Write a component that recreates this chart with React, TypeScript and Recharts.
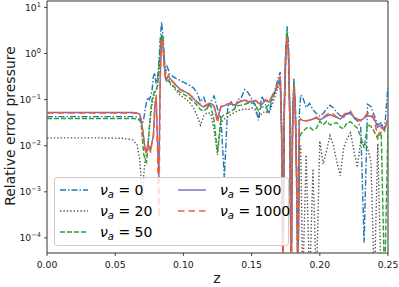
import React from 'react';
import { LineChart, Line, XAxis, YAxis, CartesianGrid, ReferenceArea, Legend } from 'recharts';

// axial position z
const Z = [
  0, 0.02, 0.04, 0.055, 0.06, 0.063, 0.066,
  0.068, 0.069, 0.07, 0.071, 0.072, 0.073, 0.074, 0.075, 0.076, 0.077, 0.078, 0.079, 0.08, 0.081, 0.082, 0.083, 0.084, 0.085, 0.086, 0.087, 0.088, 0.089, 0.09,
  0.0925, 0.095, 0.0975, 0.1, 0.1025, 0.105, 0.1075, 0.11, 0.1125, 0.115, 0.1175, 0.12, 0.1225, 0.125, 0.1275, 0.13, 0.1325, 0.135, 0.1375, 0.14, 0.1425, 0.145, 0.1475, 0.15, 0.1525, 0.155, 0.1575, 0.16, 0.1625, 0.165, 0.1675, 0.17,
  0.171, 0.172, 0.173, 0.174, 0.175, 0.176, 0.177, 0.178, 0.179, 0.18, 0.181, 0.182, 0.183, 0.184, 0.185, 0.186,
  0.1875, 0.19, 0.1925, 0.195, 0.1975, 0.2, 0.2025, 0.205, 0.2075, 0.21, 0.2125, 0.215, 0.2175, 0.22, 0.2225, 0.225, 0.2275, 0.23, 0.2325, 0.235, 0.2375, 0.24, 0.2425, 0.245, 0.2475, 0.25,
];

// nu_a = 0
const NU_0 = [
  0.0427, 0.0427, 0.0427, 0.0427, 0.0427, 0.0427, 0.0417,
  0.038, 0.0316, 0.0302, 0.0398, 0.0631, 0.0891, 0.112, 0.1, 0.12, 0.158, 0.316, 0.38, 0.224, 0.282, 0.631, 2.0, 4.79, 2.51, 0.794, 0.355, 0.525, 0.447, 0.355,
  0.316, 0.282, 0.263, 0.24, 0.219, 0.2, 0.178, 0.141, 0.0891, 0.112, 0.0661, 0.0891, 0.12, 0.0631, 0.0398, 0.002, 0.0708, 0.0891, 0.0631, 0.1, 0.112, 0.166, 0.141, 0.105, 0.0794, 0.0355, 0.12, 0.0794, 0.0501, 0.1, 0.178, 0.331,
  0.398, 0.0316, 1e-5, 0.1, 1.26, 3.89, 1.58, 0.0631, 1e-5, 0.0316, 0.282, 0.1, 0.00316, 1e-5, 0.0501, 0.126,
  0.112, 0.0676, 0.0832, 0.0603, 0.0501, 0.0437, 0.0501, 0.0631, 0.0759, 0.0661, 0.0525, 0.0447, 0.0417, 0.0501, 0.0525, 0.0398, 0.0347, 0.0251, 7.94e-5, 0.0794, 0.0708, 0.0447, 0.0282, 0.0316, 0.0224, 0.2,
];

// nu_a = 20
const NU_20 = [
  0.0148, 0.0148, 0.0148, 0.0145, 0.0138, 0.0132, 0.0105,
  0.00501, 0.002, 0.000631, 0.00251, 0.00501, 0.00708, 0.0112, 0.0224, 0.0447, 0.0794, 0.112, 0.141, 0.158, 0.191, 0.417, 1.12, 2.4, 1.91, 0.603, 0.282, 0.251, 0.263, 0.219,
  0.191, 0.151, 0.126, 0.112, 0.1, 0.0832, 0.0661, 0.0447, 0.0282, 0.0447, 0.0525, 0.0501, 0.0224, 0.00631, 0.0316, 0.038, 0.0417, 0.0479, 0.0525, 0.0575, 0.0603, 0.0631, 0.0603, 0.0661, 0.0603, 0.0398, 0.0501, 0.0562, 0.0501, 0.0759, 0.126, 0.209,
  0.251, 0.0158, 1e-5, 0.0631, 0.891, 2.82, 1.12, 0.0398, 1e-5, 0.02, 0.224, 0.0631, 0.00158, 1e-5, 0.00631, 0.01,
  1e-5, 0.00631, 1e-5, 0.00316, 1e-5, 0.0126, 0.00398, 0.00794, 0.0166, 0.01, 0.00447, 0.00224, 0.00891, 0.0141, 0.0191, 0.00794, 0.00339, 0.0126, 0.0112, 0.00891, 0.00447, 1e-5, 0.0112, 1e-5, 1e-5, 1e-5,
];

// nu_a = 50
const NU_50 = [
  0.0389, 0.0389, 0.0389, 0.0389, 0.0389, 0.0389, 0.038,
  0.0355, 0.0302, 0.0132, 0.00631, 0.00501, 0.00437, 0.00891, 0.0251, 0.0562, 0.1, 0.126, 0.158, 0.166, 0.2, 0.447, 1.26, 2.63, 2.0, 0.631, 0.282, 0.263, 0.282, 0.24,
  0.2, 0.166, 0.145, 0.132, 0.12, 0.105, 0.0891, 0.0759, 0.0603, 0.0562, 0.0661, 0.0759, 0.0355, 0.00708, 0.0398, 0.0479, 0.0501, 0.0562, 0.0631, 0.0741, 0.0759, 0.0794, 0.0832, 0.0851, 0.0794, 0.0575, 0.0708, 0.0661, 0.0759, 0.1, 0.151, 0.24,
  0.282, 0.0251, 1e-5, 0.0794, 1.0, 3.02, 1.26, 0.0501, 1e-5, 0.0251, 0.24, 0.0794, 0.002, 1e-5, 0.0126, 0.0178,
  0.02, 0.024, 0.0251, 0.0219, 0.024, 0.0339, 0.0282, 0.0339, 0.0282, 0.0302, 0.0316, 0.0251, 0.0234, 0.0316, 0.0331, 0.0282, 0.024, 0.0158, 0.00891, 0.0282, 0.0263, 0.02, 0.0141, 0.02, 1e-5, 0.0251,
];

// nu_a = 500
const NU_500 = [
  0.0525, 0.0525, 0.0525, 0.0525, 0.0525, 0.0525, 0.0513,
  0.0479, 0.038, 0.024, 0.0141, 0.00832, 0.00759, 0.0105, 0.00955, 0.00794, 0.012, 0.0166, 0.0708, 0.112, 0.0126, 0.002, 0.282, 2.09, 1.66, 0.525, 0.275, 0.295, 0.339, 0.288,
  0.245, 0.2, 0.17, 0.155, 0.141, 0.123, 0.105, 0.0871, 0.0759, 0.0692, 0.0759, 0.0832, 0.0724, 0.038, 0.0692, 0.0741, 0.0794, 0.0813, 0.0759, 0.0851, 0.0912, 0.0977, 0.0871, 0.0912, 0.0955, 0.0851, 0.0776, 0.0955, 0.0891, 0.115, 0.158, 0.251,
  0.302, 0.02, 1e-5, 0.0562, 0.832, 2.29, 1.05, 0.0398, 1e-5, 0.02, 0.209, 0.0708, 0.00251, 1e-5, 0.0355, 0.0372,
  0.0355, 0.0347, 0.0355, 0.038, 0.0398, 0.0363, 0.0398, 0.0437, 0.0468, 0.0437, 0.0407, 0.038, 0.0437, 0.049, 0.0501, 0.0417, 0.038, 0.0355, 0.0398, 0.0447, 0.0437, 0.038, 0.0251, 0.0282, 0.0224, 0.038,
];

// nu_a = 1000
const NU_1000 = [
  0.0513, 0.0513, 0.0513, 0.0513, 0.0513, 0.0513, 0.0501,
  0.0468, 0.0355, 0.0224, 0.0132, 0.00794, 0.00661, 0.0112, 0.00891, 0.00708, 0.0126, 0.0158, 0.0631, 0.126, 0.01, 0.000282, 0.316, 2.2, 1.58, 0.501, 0.263, 0.282, 0.331, 0.282,
  0.24, 0.191, 0.166, 0.151, 0.145, 0.126, 0.107, 0.0891, 0.0794, 0.0708, 0.0794, 0.0871, 0.0708, 0.0316, 0.0708, 0.0759, 0.0813, 0.0832, 0.0794, 0.0871, 0.0955, 0.102, 0.0891, 0.0955, 0.1, 0.0832, 0.0794, 0.1, 0.0912, 0.12, 0.166, 0.263,
  0.316, 0.0158, 1e-5, 0.0501, 0.794, 2.24, 1.0, 0.0316, 1e-5, 0.0158, 0.2, 0.0631, 0.00158, 1e-5, 0.0355, 0.038,
  0.0363, 0.0347, 0.0363, 0.0398, 0.0417, 0.0372, 0.0417, 0.0468, 0.0525, 0.0479, 0.0417, 0.0398, 0.0468, 0.0537, 0.0562, 0.0417, 0.0363, 0.0347, 0.0417, 0.0501, 0.0525, 0.0355, 0.0158, 0.0251, 0.0209, 0.0398,
];

const X_TICKS = [0, 0.05, 0.1, 0.15, 0.2, 0.25];
const Y_MAJOR = [1e-4, 1e-3, 1e-2, 1e-1, 1, 10];
const Y_EXP = ['\u22124', '\u22123', '\u22122', '\u22121', '0', '1'];
const Y_MINOR = [
  5e-5, 6e-5, 7e-5, 8e-5, 9e-5,
  2e-4, 3e-4, 4e-4, 5e-4, 6e-4, 7e-4, 8e-4, 9e-4,
  2e-3, 3e-3, 4e-3, 5e-3, 6e-3, 7e-3, 8e-3, 9e-3,
  2e-2, 3e-2, 4e-2, 5e-2, 6e-2, 7e-2, 8e-2, 9e-2,
  0.2, 0.3, 0.4, 0.5, 0.6, 0.7, 0.8, 0.9,
  2, 3, 4, 5, 6, 7, 8, 9,
];
const Y_DOMAIN: [number, number] = [4.7e-5, 13.8];
const X_DOMAIN: [number, number] = [0, 0.25];

const SERIES = [
  { key: 'nu0', label: '0', values: NU_0, color: '#1f77b4', dash: '6 2 1.5 2', width: 1.4 },
  { key: 'nu20', label: '20', values: NU_20, color: '#555555', dash: '1.4 2', width: 1.4 },
  { key: 'nu50', label: '50', values: NU_50, color: '#2ca02c', dash: '5 2', width: 1.4 },
  { key: 'nu500', label: '500', values: NU_500, color: '#7468c0', dash: undefined as string | undefined, width: 1.4 },
  { key: 'nu1000', label: '1000', values: NU_1000, color: '#f06030', dash: '6.5 4', width: 1.6 },
];

const rows = Z.map((z, i) => {
  const r: Record<string, number> = { z };
  SERIES.forEach((s) => { r[s.key] = s.values[i]; });
  return r;
});

const FONT = 'DejaVu Sans';
const INK = '#1a1a1a';

const XTick = (p: any) => (
  <text x={p.x} y={p.y + 6.7} textAnchor="middle" fontSize={9.3} fontFamily={FONT} fill={INK}>
    {Number(p.payload.value).toFixed(2)}
  </text>
);

const YTick = (p: any) => {
  const idx = Y_MAJOR.indexOf(p.payload.value);
  return (
    <text x={p.x} y={p.y + 3.4} textAnchor="end" fontSize={9.3} fontFamily={FONT} fill={INK}>
      <tspan>10</tspan>
      <tspan dy={-4.2} fontSize={6.6}>{Y_EXP[idx]}</tspan>
    </text>
  );
};

const EmptyTick = () => <g />;

const gridRows = (values: number[]) => (props: any) => {
  const s = props?.yAxis?.scale;
  return typeof s === 'function' ? values.map((v) => s(v)) : [];
};
const gridCols = (values: number[]) => (props: any) => {
  const s = props?.xAxis?.scale;
  return typeof s === 'function' ? values.map((v) => s(v)) : [];
};

const LegendBox = () => (
  <div
    style={{
      position: 'relative', width: 235, height: 69, boxSizing: 'border-box',
      border: '1px solid #cccccc', borderRadius: 3, background: 'rgba(255,255,255,0.8)',
      fontFamily: FONT, fontSize: 14, color: '#000',
    }}
  >
    {SERIES.map((s, i) => {
      const col = i < 3 ? 0 : 1;
      const row = i < 3 ? i : i - 3;
      const cy = 12 + row * 21;
      const hx = col ? 123 : 5;
      const tx = col ? 165 : 45;
      return (
        <React.Fragment key={s.key}>
          <svg style={{ position: 'absolute', left: hx, top: cy - 3 }} width={28} height={6}>
            <line x1={0} y1={3} x2={28} y2={3} stroke={s.color} strokeWidth={s.width} strokeDasharray={s.dash} />
          </svg>
          <div style={{ position: 'absolute', left: tx, top: cy - 9, lineHeight: '18px', whiteSpace: 'nowrap' }}>
            <span style={{ fontStyle: 'italic' }}>ν</span>
            <span style={{ fontStyle: 'italic', fontSize: 10, position: 'relative', top: 3 }}>a</span>
            {' = ' + s.label}
          </div>
        </React.Fragment>
      );
    })}
  </div>
);

export default function App() {
  return (
    <div style={{ position: 'absolute', left: 0, top: 0, width: 399, height: 287, background: '#fff' }}>
      <LineChart width={399} height={287} data={rows} margin={{ top: 1, right: 11, bottom: 0, left: 0 }}>
        <CartesianGrid
          horizontalCoordinatesGenerator={gridRows(Y_MINOR)}
          vertical={false}
          stroke="#ececec"
          strokeWidth={0.8}
        />
        <CartesianGrid
          horizontalCoordinatesGenerator={gridRows(Y_MAJOR)}
          verticalCoordinatesGenerator={gridCols(X_TICKS)}
          stroke="#d6d6d6"
          strokeWidth={0.8}
        />
        <XAxis
          dataKey="z"
          type="number"
          domain={X_DOMAIN}
          ticks={X_TICKS}
          interval={0}
          allowDataOverflow
          height={34}
          tickSize={3}
          tickMargin={5}
          axisLine={false}
          tickLine={{ stroke: INK, strokeWidth: 0.8 }}
          tick={XTick}
          label={{ content: () => <text x={217} y={283} textAnchor="middle" fontSize={14} fontFamily={FONT} fill={INK}>z</text> }}
        />
        <YAxis
          type="number"
          scale="log"
          domain={Y_DOMAIN}
          ticks={Y_MAJOR}
          interval={0}
          allowDataOverflow
          width={47}
          tickSize={3}
          tickMargin={3}
          axisLine={false}
          tickLine={{ stroke: INK, strokeWidth: 0.8 }}
          tick={YTick}
          label={{
            content: () => (
              <text x={15} y={126} transform="rotate(-90 15 126)" textAnchor="middle" fontSize={14} fontFamily={FONT} fill={INK}>
                Relative error pressure
              </text>
            ),
          }}
        />
        <YAxis
          yAxisId="minor"
          type="number"
          scale="log"
          domain={Y_DOMAIN}
          ticks={Y_MINOR}
          interval={0}
          allowDataOverflow
          width={0}
          tickSize={1.8}
          tickMargin={0}
          axisLine={false}
          tickLine={{ stroke: INK, strokeWidth: 0.6 }}
          tick={EmptyTick}
        />
        {SERIES.map((s) => (
          <Line
            key={s.key}
            dataKey={s.key}
            name={s.label}
            stroke={s.color}
            strokeWidth={s.width}
            strokeDasharray={s.dash}
            dot={false}
            activeDot={false}
            isAnimationActive={false}
            type="linear"
          />
        ))}
        <ReferenceArea
          x1={X_DOMAIN[0]}
          x2={X_DOMAIN[1]}
          y1={Y_DOMAIN[0]}
          y2={Y_DOMAIN[1]}
          fill="none"
          fillOpacity={0}
          stroke={INK}
          strokeWidth={0.9}
          ifOverflow="visible"
        />
        <Legend
          layout="horizontal"
          verticalAlign="middle"
          align="center"
          content={() => <LegendBox />}
          wrapperStyle={{ left: 54, top: 177, width: 235, height: 69 }}
        />
      </LineChart>
    </div>
  );
}
